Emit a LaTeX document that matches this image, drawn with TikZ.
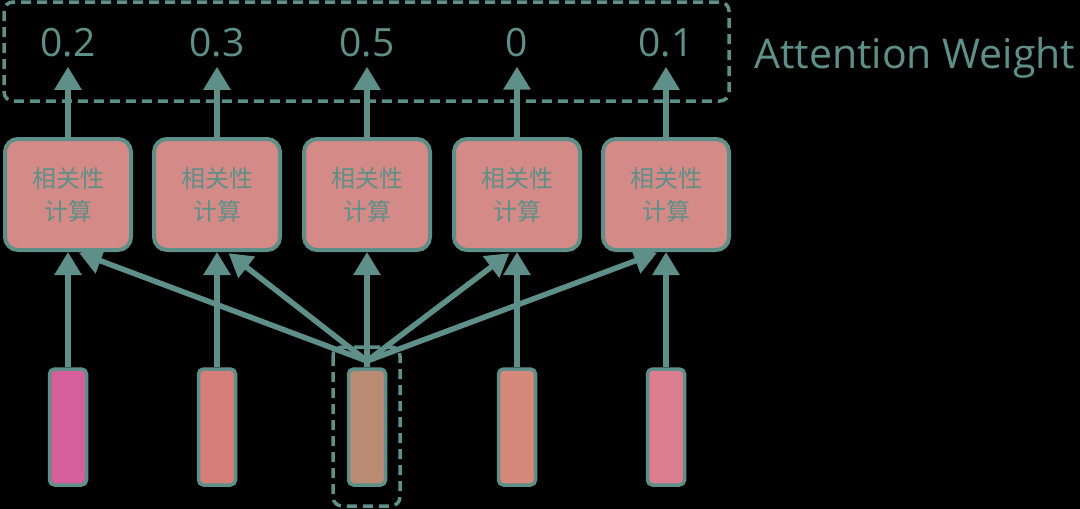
\documentclass[tikz,border=0pt]{standalone}
\usepackage{fontspec}
\setmainfont{Open Sans}
\newfontfamily\cjk{Noto Sans CJK SC}
\usetikzlibrary{arrows.meta}
\definecolor{tealc}{HTML}{5E8F88}
\definecolor{boxfill}{HTML}{D48A87}
\definecolor{barA}{HTML}{D65F9B}
\definecolor{barB}{HTML}{D67F78}
\definecolor{barC}{HTML}{BA8B73}
\definecolor{barD}{HTML}{D5897B}
\definecolor{barE}{HTML}{DB7E8F}
\begin{document}
\begin{tikzpicture}[x=1pt,y=-1pt,
  calcbox/.style={draw=tealc, line width=4pt, fill=boxfill, rounded corners=13pt,
    minimum width=126pt, minimum height=111pt, inner sep=0pt, align=center,
    text=tealc, font=\cjk\fontsize{24}{33}\selectfont},
  vecbar/.style={draw=tealc, line width=3.5pt, rounded corners=5pt,
    minimum width=37pt, minimum height=116pt, inner sep=0pt},
  weight/.style={text=tealc, font=\fontsize{39}{42}\selectfont, anchor=base, inner sep=10pt},
  conn/.style={draw=tealc, line width=5.5pt, -{Triangle[length=23pt,width=26pt]}},
  frame/.style={draw=tealc, line width=3.5pt, rounded corners=9pt, dash pattern=on 10pt off 6pt}
]
\fill[black] (0,0) rectangle (1080,509);
\useasboundingbox (0,0) rectangle (1080,509);

% dashed frames
\draw[frame] (4,2) rectangle (729,101);
\draw[frame] (333,347) rectangle (400,506);

% weights
\node[weight] (n1) at (68,56) {0.2};
\node[weight] (n2) at (217,56) {0.3};
\node[weight] (n3) at (367,56) {0.5};
\node[weight] (n4) at (517,56) {0};
\node[weight] (n5) at (666,56) {0.1};
\node[text=tealc, font=\fontsize{41}{44}\selectfont, anchor=base west, inner sep=0pt] (lbl) at (754,68) {Attention Weight};

% relevance boxes
\node[calcbox] (b1) at (68,194.5) {相关性\\计算};
\node[calcbox] (b2) at (217,194.5) {相关性\\计算};
\node[calcbox] (b3) at (367,194.5) {相关性\\计算};
\node[calcbox] (b4) at (517,194.5) {相关性\\计算};
\node[calcbox] (b5) at (666,194.5) {相关性\\计算};

% vectors
\node[vecbar, fill=barA] (v1) at (68,427) {};
\node[vecbar, fill=barB] (v2) at (217,427) {};
\node[vecbar, fill=barC] (v3) at (367,427) {};
\node[vecbar, fill=barD] (v4) at (517,427) {};
\node[vecbar, fill=barE] (v5) at (666,427) {};

\coordinate (s) at (367,361);

% arrows
\foreach \i in {1,...,5} {
  \draw[conn] (b\i.north) -- (n\i.south);
}
\draw[conn] (v1.north) -- (b1.south);
\draw[conn] (v2.north) -- (b2.south);
\draw[conn] (v3.north) -- (b3.south);
\draw[conn] (v4.north) -- (b4.south);
\draw[conn] (v5.north) -- (b5.south);

\draw[conn, shorten >=2pt] (s) -- ([xshift=9pt]b1.south);
\draw[conn, shorten >=2pt] (s) -- ([xshift=10pt]b2.south);
\draw[conn, shorten >=2pt] (s) -- ([xshift=-6pt]b4.south);
\draw[conn, shorten >=2pt] (s) -- ([xshift=-7pt]b5.south);
\end{tikzpicture}
\end{document}
